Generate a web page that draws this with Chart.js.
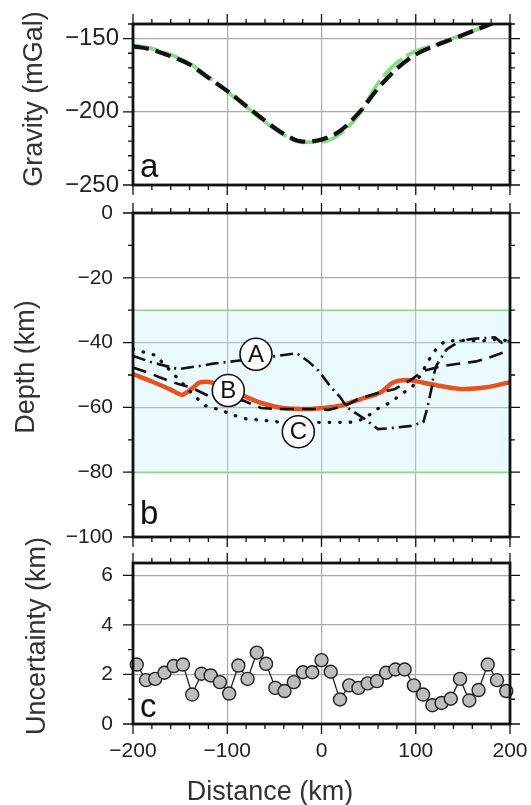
<!DOCTYPE html>
<html><head><meta charset="utf-8">
<script src="https://cdn.jsdelivr.net/npm/chart.js@4/dist/chart.umd.min.js"></script>
<style>
html,body{margin:0;padding:0;background:#fff;}
#wrap{position:relative;width:531px;height:805px;overflow:hidden;background:#fff;}
canvas{position:absolute;left:0;}
</style></head><body>
<div id="wrap">
<canvas id="ca" width="531" height="205" style="top:0px;width:531px;height:205px"></canvas>
<canvas id="cb" width="531" height="365" style="top:190px;width:531px;height:365px"></canvas>
<canvas id="cc" width="531" height="275" style="top:530px;width:531px;height:275px"></canvas>
</div>
<script>
// ---------- DATA ----------
const distanceTicks = [-200, -100, 0, 100, 200];
const gravityTicks = [-250, -200, -150];
const depthTicks = [-100, -80, -60, -40, -20, 0];
const uncertaintyTicks = [0, 2, 4, 6];

// panel a: gravity
const gravityDistance = [-200,-180,-160,-140,-120,-100,-80,-60,-40,-20,0,20,40,60,80,100,120,140,160,180,200];
const gravityObserved = [-155.2,-157.5,-162,-167.6,-176.7,-185.7,-195.9,-206.1,-215.1,-220.3,-219,-212.9,-200.4,-184,-170.5,-160.8,-155,-150,-145,-139.8,-134];
const gravityModel    = [-154.5,-156.8,-161,-167,-176.2,-186.2,-196.6,-207,-215.8,-220.8,-220.6,-215,-201.5,-180.5,-166.5,-158.5,-154.3,-149.6,-145,-139.6,-134];

// panel b: depth
const bandTop = -30;
const bandBottom = -80;
const redDist  = [-200,-180,-160,-148,-138,-129,-116,-100,-79,-62,-41,-13,0,20,41,62,76,94,115,147,175,200];
const redDepth = [-49.7,-52,-54.5,-56.1,-54.3,-52.3,-52.3,-54,-56.9,-58.8,-60.2,-60.5,-60.2,-59.5,-57.5,-55.5,-52.3,-51.6,-52.8,-54.3,-53.8,-52.2];
const lineADist  = [-200,-180,-152,-129,-115,-89,-47,-26,-14,-3,10,20,27,46,60,74,95,108,112,117,119,122,133,147,161,184,191,200];
const lineADepth = [-44.1,-46.1,-48.2,-47.2,-46.5,-45.6,-44.1,-43.3,-45.8,-48.7,-53.8,-56.9,-60,-63.6,-66.7,-66.4,-65.7,-64.6,-60.5,-53.8,-50,-47,-42,-39.5,-38.8,-38.4,-40,-39.5];
const lineBDist  = [-200,-180,-171,-152,-139,-120,-100,-83,-64,-47,-33,-5,7,25,39,62,78,96,108,129,143,164,178,200];
const lineBDepth = [-47.7,-49.7,-50.8,-52.8,-53.8,-56.4,-57.3,-57.9,-60.2,-60.5,-60.5,-60.5,-60.8,-59.5,-57.4,-55.4,-54.3,-51.3,-48.7,-47.2,-46.6,-45.8,-44.6,-42.3];
const lineCDist  = [-200,-190,-176,-167,-155,-134,-123,-107,-95,-79,-65,-45,-25,0,15,30,45,59,73,85,97,106,112,120,131,150,170,185,200];
const lineCDepth = [-42,-42.8,-43.9,-46.7,-50.3,-56.7,-59.5,-60.8,-62.3,-63.6,-63.9,-64.5,-64.6,-64.6,-64.6,-64.6,-63.6,-60.5,-58.5,-55.9,-53.4,-49.7,-46.2,-42.6,-39.5,-39.3,-39.5,-39,-39.5];
const labelText  = ['A','B','C'];
const labelDist  = [-69.5,-98.9,-24.6];
const labelDepth = [-43.6,-54.8,-67.5];

// panel c: uncertainty
const uncDist = [-196,-186.2,-176.4,-166.6,-156.8,-147,-137.2,-127.4,-117.6,-107.8,-98,-88.2,-78.4,-68.6,-58.8,-49,-39.2,-29.4,-19.6,-9.8,0,9.8,19.6,29.4,39.2,49,58.8,68.6,78.4,88.2,98,107.8,117.6,127.4,137.2,147,156.8,166.6,176.4,186.2,196];
const uncValue = [2.40,1.77,1.82,2.07,2.34,2.40,1.19,2.03,1.96,1.69,1.23,2.36,1.82,2.88,2.43,1.46,1.33,1.69,2.09,2.09,2.58,2.11,0.99,1.56,1.46,1.64,1.73,2.07,2.20,2.20,1.56,1.19,0.76,0.85,1.02,1.82,0.95,1.37,2.40,1.77,1.33];

// ---------- HELPERS ----------
const FAMILY = '"Liberation Sans", Arial, Helvetica, sans-serif';
const pts = (xs, ys) => xs.map((x, i) => ({x, y: ys[i]}));
const fmt = v => String(v).replace('-', '\u2212');
function range(a, b, s) { const r = []; for (let v = a; v <= b + 1e-9; v += s) r.push(Math.round(v * 1000) / 1000); return r; }

function framePlugin(o) {
  return {
    id: 'frame',
    afterDatasetsDraw(chart) {
      if (!o.circles) return;
      const meta = chart.getDatasetMeta(o.circles);
      const ctx = chart.ctx;
      ctx.save();
      ctx.font = '24px ' + FAMILY;
      ctx.fillStyle = '#111';
      ctx.textAlign = 'center';
      ctx.textBaseline = 'middle';
      meta.data.forEach((el, i) => ctx.fillText(labelText[i], el.x, el.y + 1));
      ctx.restore();
    },
    afterDraw(chart) {
      const {ctx, chartArea: ca, scales: {x, y}} = chart;
      ctx.save();
      ctx.strokeStyle = '#111';
      ctx.lineWidth = 1.3;
      ctx.beginPath();
      for (const v of o.xMinor) {
        const p = x.getPixelForValue(v);
        const len = o.xMajor.includes(v) ? 10 : 5;
        ctx.moveTo(p, ca.top); ctx.lineTo(p, ca.top - len);
        ctx.moveTo(p, ca.bottom); ctx.lineTo(p, ca.bottom + len);
      }
      for (const v of o.yMinor) {
        const p = y.getPixelForValue(v);
        const len = o.yMajor.includes(v) ? 10 : 5;
        ctx.moveTo(ca.left, p); ctx.lineTo(ca.left - len, p);
        ctx.moveTo(ca.right, p); ctx.lineTo(ca.right + len, p);
      }
      ctx.stroke();
      ctx.lineWidth = 2.8;
      ctx.strokeRect(ca.left, ca.top, ca.right - ca.left, ca.bottom - ca.top);
      // panel letter
      ctx.font = '33px ' + FAMILY;
      ctx.fillStyle = '#111';
      ctx.textAlign = 'left';
      ctx.textBaseline = 'alphabetic';
      ctx.fillText(o.letter, ca.left + 7, ca.bottom - o.letterLift);
      // axis titles
      ctx.font = '27px ' + FAMILY;
      ctx.fillStyle = '#333';
      ctx.textAlign = 'center';
      for (const t of o.titles) {
        ctx.save();
        ctx.translate(t.x, t.y);
        if (t.rot) ctx.rotate(-Math.PI / 2);
        ctx.fillText(t.text, 0, 0);
        ctx.restore();
      }
      ctx.restore();
    }
  };
}

function gridColor(c) {
  const s = c.scale;
  if (c.tick && (c.tick.value === s.min || c.tick.value === s.max)) return 'rgba(0,0,0,0)';
  return '#aaaaaa';
}

function xScale(showLabels) {
  return {
    type: 'linear', min: -200, max: 200,
    afterBuildTicks: sc => { sc.ticks = distanceTicks.map(v => ({value: v})); },
    grid: {color: gridColor, lineWidth: 1.2, drawTicks: false},
    border: {display: false},
    ticks: {display: showLabels, padding: 15, color: '#222', font: {size: 21, family: FAMILY}, callback: v => fmt(v), maxRotation: 0},
    afterFit: sc => { sc.height = showLabels ? 81 : 0; sc.paddingLeft = 0; sc.paddingRight = 0; }
  };
}

function yScale(min, max, ticks, pad, size) {
  return {
    type: 'linear', min, max,
    afterBuildTicks: sc => { sc.ticks = ticks.map(v => ({value: v})); },
    grid: {color: gridColor, lineWidth: 1.2, drawTicks: false},
    border: {display: false},
    ticks: {padding: pad, color: '#222', font: {size: size, family: FAMILY}, callback: v => fmt(v)},
    afterFit: sc => { sc.width = 133; sc.paddingTop = 0; sc.paddingBottom = 0; }
  };
}

const common = {
  responsive: false, animation: false, events: [],
  plugins: {legend: {display: false}, tooltip: {enabled: false}},
  elements: {point: {radius: 0}, line: {tension: 0}}
};

// ---------- PANEL A ----------
new Chart(document.getElementById('ca'), {
  type: 'line',
  data: {datasets: [
    {data: pts(gravityDistance, gravityObserved), borderColor: '#111', borderWidth: 4.2, borderDash: [16, 7], cubicInterpolationMode: 'monotone', order: 1},
    {data: pts(gravityDistance, gravityModel), borderColor: '#86dc86', borderWidth: 3.8, borderDash: [26, 5], cubicInterpolationMode: 'monotone', order: 2}
  ]},
  options: Object.assign({}, common, {
    layout: {padding: {left: 0, right: 21, top: 24, bottom: 20}},
    scales: {x: xScale(false), y: yScale(-250, -140, gravityTicks, 14, 24)}
  }),
  plugins: [framePlugin({letter: 'a', letterLift: 8, xMinor: range(-200, 200, 20), xMajor: distanceTicks, yMinor: range(-250, -140, 10), yMajor: gravityTicks,
    titles: [{text: 'Gravity (mGal)', x: 42, y: 99, rot: true}]})]
});

// ---------- PANEL B ----------
new Chart(document.getElementById('cb'), {
  type: 'line',
  data: {datasets: [
    {data: pts([-200, 200], [bandTop, bandTop]), borderColor: '#8ad88a', borderWidth: 1.5, fill: false, order: 5},
    {data: pts([-200, 200], [bandBottom, bandBottom]), borderColor: '#8ad88a', borderWidth: 1.5, fill: '-1', backgroundColor: 'rgba(190,238,255,0.3)', order: 5},
    {data: pts(redDist, redDepth), borderColor: '#e8521e', borderWidth: 4.5, tension: 0.3, order: 3},
    {data: pts(lineADist, lineADepth), borderColor: '#111', borderWidth: 2.6, borderDash: [13, 5, 2, 5], order: 2},
    {data: pts(lineBDist, lineBDepth), borderColor: '#111', borderWidth: 2.6, borderDash: [14, 8], order: 2},
    {data: pts(lineCDist, lineCDepth), borderColor: '#111', borderWidth: 3.3, borderDash: [0.5, 10], borderCapStyle: 'round', order: 2},
    {data: pts(labelDist, labelDepth), showLine: false, pointRadius: 16, pointBackgroundColor: '#fff', pointBorderColor: '#111', pointBorderWidth: 1.6, order: 0, clip: false}
  ]},
  options: Object.assign({}, common, {
    layout: {padding: {left: 0, right: 21, top: 23, bottom: 18}},
    scales: {x: xScale(false), y: yScale(-100, 0, depthTicks, 20, 21)}
  }),
  plugins: [framePlugin({letter: 'b', letterLift: 13, circles: 6, xMinor: range(-200, 200, 20), xMajor: distanceTicks, yMinor: range(-100, 0, 10), yMajor: depthTicks,
    titles: [{text: 'Depth (km)', x: 34, y: 177, rot: true}]})]
});

// ---------- PANEL C ----------
new Chart(document.getElementById('cc'), {
  type: 'line',
  data: {datasets: [
    {data: pts(uncDist, uncValue), borderColor: '#222', borderWidth: 1.3, pointRadius: 6.5, pointBackgroundColor: '#bdbdbd', pointBorderColor: '#222', pointBorderWidth: 1.4, clip: false}
  ]},
  options: Object.assign({}, common, {
    layout: {padding: {left: 0, right: 21, top: 33, bottom: 0}},
    scales: {x: xScale(true), y: yScale(0, 6.5, uncertaintyTicks, 20, 21)}
  }),
  plugins: [framePlugin({letter: 'c', letterLift: 7, xMinor: range(-200, 200, 20), xMajor: distanceTicks, yMinor: range(0, 6, 1), yMajor: uncertaintyTicks,
    titles: [{text: 'Uncertainty (km)', x: 45, y: 106, rot: true}, {text: 'Distance (km)', x: 270, y: 270, rot: false}]})]
});
</script>
</body></html>
